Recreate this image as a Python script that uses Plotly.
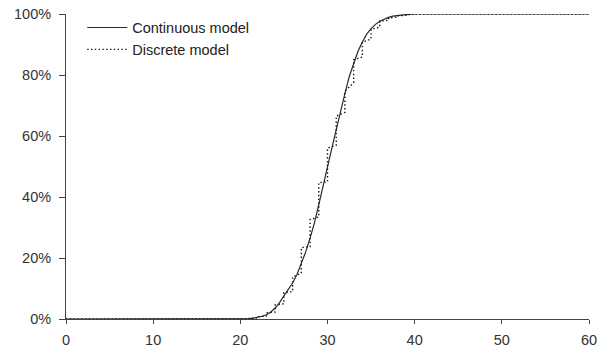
import plotly.graph_objects as go

# Continuous model (x, cumulative %)
cont_x = [0, 10, 20, 20.5, 21, 21.5, 22, 22.5, 23, 23.5, 24, 24.5, 25, 25.5, 26, 26.5, 27, 27.5,
          28, 28.5, 29, 29.5, 30, 30.5, 31, 31.5, 32, 32.5, 33, 33.5, 34, 34.5, 35, 35.5,
          36, 36.5, 37, 37.5, 38, 39, 40, 50, 60]
cont_y = [0, 0, 0, 0.05, 0.15, 0.3, 0.5, 0.9, 1.4, 2.3, 3.6, 5.4, 7.6, 9.6, 11.8, 14.6, 18.2, 22.0,
          26.5, 31.5, 37.5, 44.0, 50.0, 56.0, 62.0, 68.5, 74.0, 79.5, 84.0, 87.8, 90.8, 93.4, 95.2, 96.6,
          97.6, 98.3, 98.9, 99.3, 99.5, 99.8, 100, 100, 100]

# Discrete model: step at each integer, from lower to upper value (%)
disc_n = [21, 22, 23, 24, 25, 26, 27, 28, 29, 30, 31, 32, 33, 34, 35, 36, 37, 38, 39, 40]
disc_lo = [0.1, 0.3, 1.0, 2.3, 5.0, 9.0, 15.0, 23.7, 33.5, 45.0, 57.0, 67.8, 77.5, 85.9, 91.8, 95.7, 97.9, 99.0, 99.6, 99.9]
disc_hi = [0.2, 0.7, 2.0, 4.6, 8.6, 13.8, 23.4, 32.6, 44.7, 56.0, 66.5, 74.7, 85.0, 90.8, 95.0, 97.7, 98.7, 99.4, 99.8, 100]

x_ticks = [0, 10, 20, 30, 40, 50, 60]
y_ticks = [0, 20, 40, 60, 80, 100]
y_labels = ["0%", "20%", "40%", "60%", "80%", "100%"]

dx = [0, 20]
dy = [0, 0]
for n, lo, hi in zip(disc_n, disc_lo, disc_hi):
    dx += [n, n]
    dy += [lo, hi]
dx += [60]
dy += [100]

fig = go.Figure()
fig.add_trace(go.Scatter(x=cont_x, y=cont_y, mode="lines", name="Continuous model",
                         line=dict(color="#2a2a2a", width=1.2)))
fig.add_trace(go.Scatter(x=dx, y=dy, mode="lines", name="Discrete model",
                         line=dict(color="#111111", width=1.4, dash="1.4px,2.4px")))

FONT = "Liberation Sans, Arial, sans-serif"
axis_font = dict(family=FONT, size=14.5, color="#333333")
fig.update_layout(
    width=606, height=354,
    margin=dict(l=66, r=17, t=14, b=35, autoexpand=False),
    paper_bgcolor="white", plot_bgcolor="white",
    font=axis_font,
    legend=dict(x=0.031, y=1.008, xanchor="left", yanchor="top", bgcolor="rgba(0,0,0,0)",
                font=dict(family=FONT, size=14.5, color="#222222"),
                itemwidth=40, tracegroupgap=0),
    xaxis=dict(range=[0, 60], tickvals=x_ticks, showgrid=False, zeroline=False,
               showline=True, linecolor="#444444", linewidth=1, automargin=False,
               ticks="outside", ticklen=4, tickcolor="#444444", tickfont=axis_font,
               ticklabelstandoff=4),
    yaxis=dict(range=[0, 100], tickvals=y_ticks, ticktext=y_labels, showgrid=False, zeroline=False,
               showline=True, linecolor="#444444", linewidth=1, automargin=False,
               ticks="outside", ticklen=6, tickcolor="#444444", tickfont=axis_font,
               ticklabelstandoff=5),
)
fig.write_html("out.html")
